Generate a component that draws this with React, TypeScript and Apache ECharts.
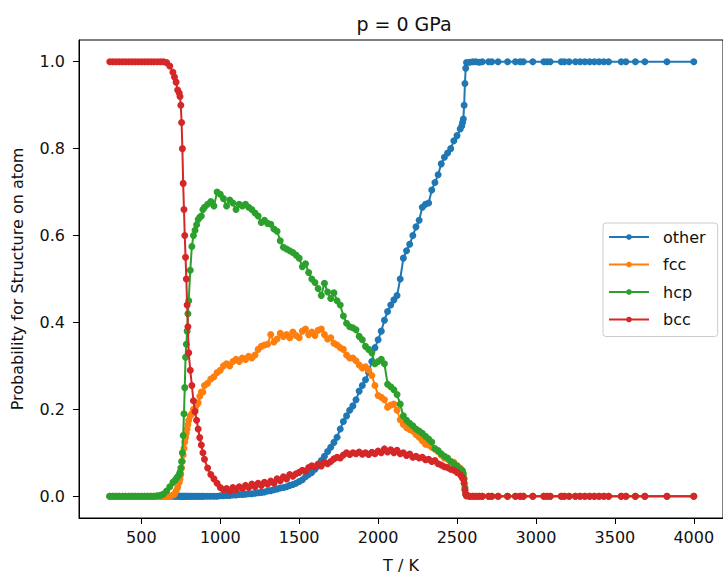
import React, { useEffect, useRef } from "react";
import * as echarts from "echarts";

// Temperatures (K) at which the structure probabilities were sampled
const temperatures = [
  300, 320, 340, 360, 380, 400, 420, 440, 460, 480, 500, 520, 540, 560, 580, 600, 620, 640, 660, 680, 700,
  710, 720, 730, 740, 745, 750, 755, 760, 765, 770, 775, 780, 785, 790, 795, 800, 810, 820, 830, 840, 850, 860, 870, 880, 890, 900,
  920, 940, 960, 980, 1000, 1020, 1040, 1060, 1080, 1100,
  1120, 1140, 1160, 1180, 1200, 1220, 1240, 1260, 1280, 1300,
  1320, 1340, 1360, 1380, 1400, 1420, 1440, 1460, 1480, 1500,
  1520, 1540, 1560, 1580, 1600, 1620, 1640, 1660, 1680, 1700,
  1720, 1740, 1760, 1780, 1800, 1820, 1840, 1860, 1880, 1900,
  1920, 1940, 1960, 1980, 2000, 2020, 2040, 2060, 2080, 2100,
  2120, 2140, 2160, 2180, 2200, 2220, 2240, 2260, 2280, 2300,
  2320, 2340, 2360, 2380, 2400, 2420, 2440, 2460, 2480, 2500,
  2520,
  2530, 2535, 2540, 2545, 2550, 2555, 2560,
  2580, 2600, 2620, 2640, 2660, 2700, 2720, 2760, 2820, 2870, 2900, 2920, 2980, 3050, 3070, 3090,
  3160, 3180, 3210, 3250, 3280, 3310, 3340, 3370, 3400, 3430, 3460, 3540, 3570, 3630, 3690, 3830, 4000,
];

const other = [
  0, 0, 0, 0, 0, 0, 0, 0, 0, 0, 0, 0, 0, 0, 0, 0, 0, 0, 0, 0, 0,
  0, 0, 0, 0, 0, 0, 0, 0, 0, 0, 0, 0, 0, 0, 0, 0, 0, 0, 0, 0, 0, 0, 0, 0, 0, 0,
  0, 0, 0, 0, 0.001, 0.001, 0.002, 0.002, 0.003, 0.003,
  0.004, 0.004, 0.005, 0.006, 0.006, 0.007, 0.008, 0.009, 0.01, 0.012,
  0.013, 0.015, 0.017, 0.019, 0.02, 0.022, 0.025, 0.027, 0.03, 0.034,
  0.038, 0.045, 0.05, 0.055, 0.062, 0.07, 0.082, 0.092, 0.103, 0.113,
  0.124, 0.136, 0.155, 0.172, 0.185, 0.198, 0.208, 0.222, 0.242, 0.255,
  0.268, 0.285, 0.31, 0.342, 0.36, 0.38, 0.405, 0.425, 0.44, 0.452,
  0.462, 0.5, 0.548, 0.565, 0.58, 0.6, 0.62, 0.635, 0.665, 0.672,
  0.675, 0.705, 0.722, 0.74, 0.765, 0.78, 0.79, 0.8, 0.818, 0.83,
  0.845,
  0.852, 0.86, 0.868, 0.9, 0.95, 0.985, 0.998,
  0.999, 1, 1, 0.999, 1, 1, 1, 1, 1, 1, 1, 1, 1, 1, 1, 1,
  1, 1, 1, 1, 1, 1, 1, 1, 1, 1, 1, 1, 1, 1, 1, 1, 1,
];

const fcc = [
  0, 0, 0, 0, 0, 0, 0, 0, 0, 0, 0, 0, 0, 0, 0, 0, 0, 0, 0, 0, 0.003,
  0.005, 0.012, 0.02, 0.032, 0.04, 0.05, 0.065, 0.08, 0.095, 0.11, 0.125, 0.135, 0.145, 0.155, 0.165, 0.175, 0.185, 0.19, 0.2, 0.2, 0.21, 0.215, 0.23, 0.24, 0.24, 0.255,
  0.26, 0.27, 0.275, 0.285, 0.29, 0.3, 0.305, 0.3, 0.31, 0.315,
  0.31, 0.318, 0.315, 0.322, 0.318, 0.325, 0.338, 0.345, 0.348, 0.35,
  0.372, 0.355, 0.362, 0.375, 0.368, 0.372, 0.365, 0.378, 0.37, 0.365,
  0.38, 0.385, 0.372, 0.378, 0.37, 0.382, 0.385, 0.372, 0.362, 0.365,
  0.352, 0.348, 0.342, 0.338, 0.325, 0.318, 0.318, 0.312, 0.302, 0.295,
  0.298, 0.29, 0.278, 0.255, 0.232, 0.228, 0.222, 0.205, 0.21, 0.212,
  0.198, 0.176, 0.165, 0.158, 0.154, 0.15, 0.142, 0.136, 0.128, 0.12,
  0.118, 0.113, 0.108, 0.103, 0.095, 0.088, 0.085, 0.08, 0.078, 0.07,
  0.065,
  0.058, 0.055, 0.046, 0.03, 0.015, 0.004, 0.001,
  0, 0, 0, 0, 0, 0, 0, 0, 0, 0, 0, 0, 0, 0, 0, 0,
  0, 0, 0, 0, 0, 0, 0, 0, 0, 0, 0, 0, 0, 0, 0, 0, 0,
];

const hcp = [
  0, 0, 0, 0, 0, 0, 0, 0, 0, 0, 0, 0, 0, 0, 0, 0.001, 0.002, 0.005, 0.012, 0.022, 0.032,
  0.035, 0.04, 0.045, 0.05, 0.055, 0.065, 0.08, 0.1, 0.14, 0.19, 0.25, 0.32, 0.35, 0.38, 0.42, 0.45, 0.52, 0.575, 0.6, 0.612, 0.625, 0.637, 0.642, 0.645, 0.66, 0.665,
  0.672, 0.678, 0.668, 0.7, 0.695, 0.685, 0.668, 0.682, 0.675, 0.66,
  0.672, 0.668, 0.672, 0.665, 0.66, 0.652, 0.645, 0.63, 0.635, 0.628,
  0.626, 0.615, 0.61, 0.588, 0.573, 0.569, 0.565, 0.561, 0.555, 0.548,
  0.528, 0.535, 0.515, 0.5, 0.492, 0.478, 0.462, 0.49, 0.47, 0.455,
  0.468, 0.45, 0.44, 0.415, 0.398, 0.39, 0.388, 0.383, 0.368, 0.36,
  0.345, 0.338, 0.33, 0.305, 0.31, 0.315, 0.305, 0.258, 0.252, 0.245,
  0.234, 0.212, 0.185, 0.175, 0.168, 0.162, 0.155, 0.15, 0.145, 0.138,
  0.132, 0.125, 0.11, 0.105, 0.098, 0.092, 0.088, 0.08, 0.075, 0.07,
  0.062,
  0.06, 0.058, 0.052, 0.04, 0.02, 0.006, 0.001,
  0, 0, 0, 0, 0, 0, 0, 0, 0, 0, 0, 0, 0, 0, 0, 0,
  0, 0, 0, 0, 0, 0, 0, 0, 0, 0, 0, 0, 0, 0, 0, 0, 0,
];

const bcc = [
  1, 1, 1, 1, 1, 1, 1, 1, 1, 1, 1, 1, 1, 1, 1, 1, 1, 1, 0.998, 0.99, 0.976,
  0.965, 0.953, 0.935, 0.928, 0.92, 0.9, 0.86, 0.8, 0.72, 0.66, 0.6, 0.55, 0.5, 0.44, 0.39, 0.33, 0.29, 0.255, 0.22, 0.195, 0.175, 0.155, 0.135, 0.118, 0.1, 0.085,
  0.065, 0.05, 0.04, 0.03, 0.02, 0.015, 0.018, 0.012, 0.02, 0.015,
  0.022, 0.018, 0.025, 0.02, 0.028, 0.022, 0.03, 0.025, 0.032, 0.028,
  0.035, 0.03, 0.04, 0.036, 0.045, 0.04, 0.05, 0.046, 0.052, 0.055,
  0.06, 0.058, 0.066, 0.07, 0.068, 0.074, 0.07, 0.078, 0.075, 0.08,
  0.086, 0.09, 0.088, 0.095, 0.1, 0.096, 0.1, 0.098, 0.102, 0.097,
  0.1, 0.096, 0.101, 0.098, 0.104, 0.1, 0.109, 0.102, 0.107, 0.1,
  0.106, 0.098, 0.1, 0.094, 0.097, 0.09, 0.092, 0.088, 0.09, 0.084,
  0.085, 0.08, 0.082, 0.075, 0.072, 0.068, 0.066, 0.062, 0.06, 0.055,
  0.05,
  0.045, 0.042, 0.04, 0.03, 0.015, 0.005, 0.001,
  0, 0, 0, 0, 0, 0, 0, 0, 0, 0, 0, 0, 0, 0, 0, 0,
  0, 0, 0, 0, 0, 0, 0, 0, 0, 0, 0, 0, 0, 0, 0, 0, 0,
];

const seriesNames = ["other", "fcc", "hcp", "bcc"];
const seriesColors = ["#1f77b4", "#ff7f0e", "#2ca02c", "#d62728"];
const xTicks = [500, 1000, 1500, 2000, 2500, 3000, 3500, 4000];
const yTicks = [0, 0.2, 0.4, 0.6, 0.8, 1.0];

const FONT = "DejaVu Sans";

export default function App() {
  const ref = useRef<HTMLDivElement>(null);

  useEffect(() => {
    if (!ref.current) return;
    const chart = echarts.init(ref.current, null, { renderer: "svg" });
    const valueSets = [other, fcc, hcp, bcc];

    const series = seriesNames.map((name, i) => ({
      name,
      type: "line",
      data: temperatures.map((t, j) => [t, valueSets[i][j]]),
      symbol: "circle",
      symbolSize: 7,
      showSymbol: true,
      lineStyle: { width: 2, color: seriesColors[i] },
      itemStyle: { color: seriesColors[i] },
      emphasis: { disabled: true },
      z: 2 + i,
    }));

    chart.setOption({
      animation: false,
      backgroundColor: "#ffffff",
      textStyle: { fontFamily: FONT },
      grid: {
        left: 79,
        top: 40,
        width: 650,
        height: 481,
        show: true,
        borderColor: "#000",
        borderWidth: 1,
        backgroundColor: "transparent",
      },
      graphic: [
        {
          type: "text",
          x: 404,
          y: 24,
          style: {
            text: "p = 0 GPa",
            font: `19px '${FONT}'`,
            fill: "#111",
            textAlign: "center",
            textVerticalAlign: "middle",
            verticalAlign: "middle",
          },
        },
      ],
      legend: {
        data: seriesNames,
        orient: "vertical",
        left: 603,
        top: 223,
        itemWidth: 40,
        itemHeight: 7,
        itemGap: 11.5,
        padding: [6, 12, 9, 5],
        backgroundColor: "#fff",
        borderColor: "#ccc",
        borderWidth: 1,
        borderRadius: 3,
        textStyle: { fontFamily: FONT, fontSize: 16, color: "#111", padding: [0, 0, 0, 9] },
      },
      xAxis: {
        type: "value",
        min: 105,
        max: 4185,
        name: "T / K",
        nameLocation: "middle",
        nameGap: 39,
        nameTextStyle: { fontFamily: FONT, fontSize: 16, color: "#111" },
        axisLine: { show: true, onZero: false, lineStyle: { color: "#000", width: 1 } },
        axisTick: { show: true, length: 6, customValues: xTicks, lineStyle: { color: "#000" } },
        axisLabel: {
          customValues: xTicks,
          margin: 11,
          fontFamily: FONT,
          fontSize: 16,
          color: "#111",
          formatter: (v: number) => String(v),
        },
        splitLine: { show: false },
      },
      yAxis: {
        type: "value",
        min: -0.05,
        max: 1.05,
        name: "Probability for Structure on atom",
        nameLocation: "middle",
        nameGap: 54,
        nameTextStyle: { fontFamily: FONT, fontSize: 16, color: "#111" },
        axisLine: { show: true, onZero: false, lineStyle: { color: "#000", width: 1 } },
        axisTick: { show: true, length: 6, customValues: yTicks, lineStyle: { color: "#000" } },
        axisLabel: {
          customValues: yTicks,
          margin: 14,
          fontFamily: FONT,
          fontSize: 16,
          color: "#111",
          formatter: (v: number) => v.toFixed(1),
        },
        splitLine: { show: false },
      },
      series,
    });

    return () => chart.dispose();
  }, []);

  return (
    <div
      ref={ref}
      style={{ position: "fixed", left: 0, top: 0, width: 723, height: 578, background: "#fff" }}
    />
  );
}
